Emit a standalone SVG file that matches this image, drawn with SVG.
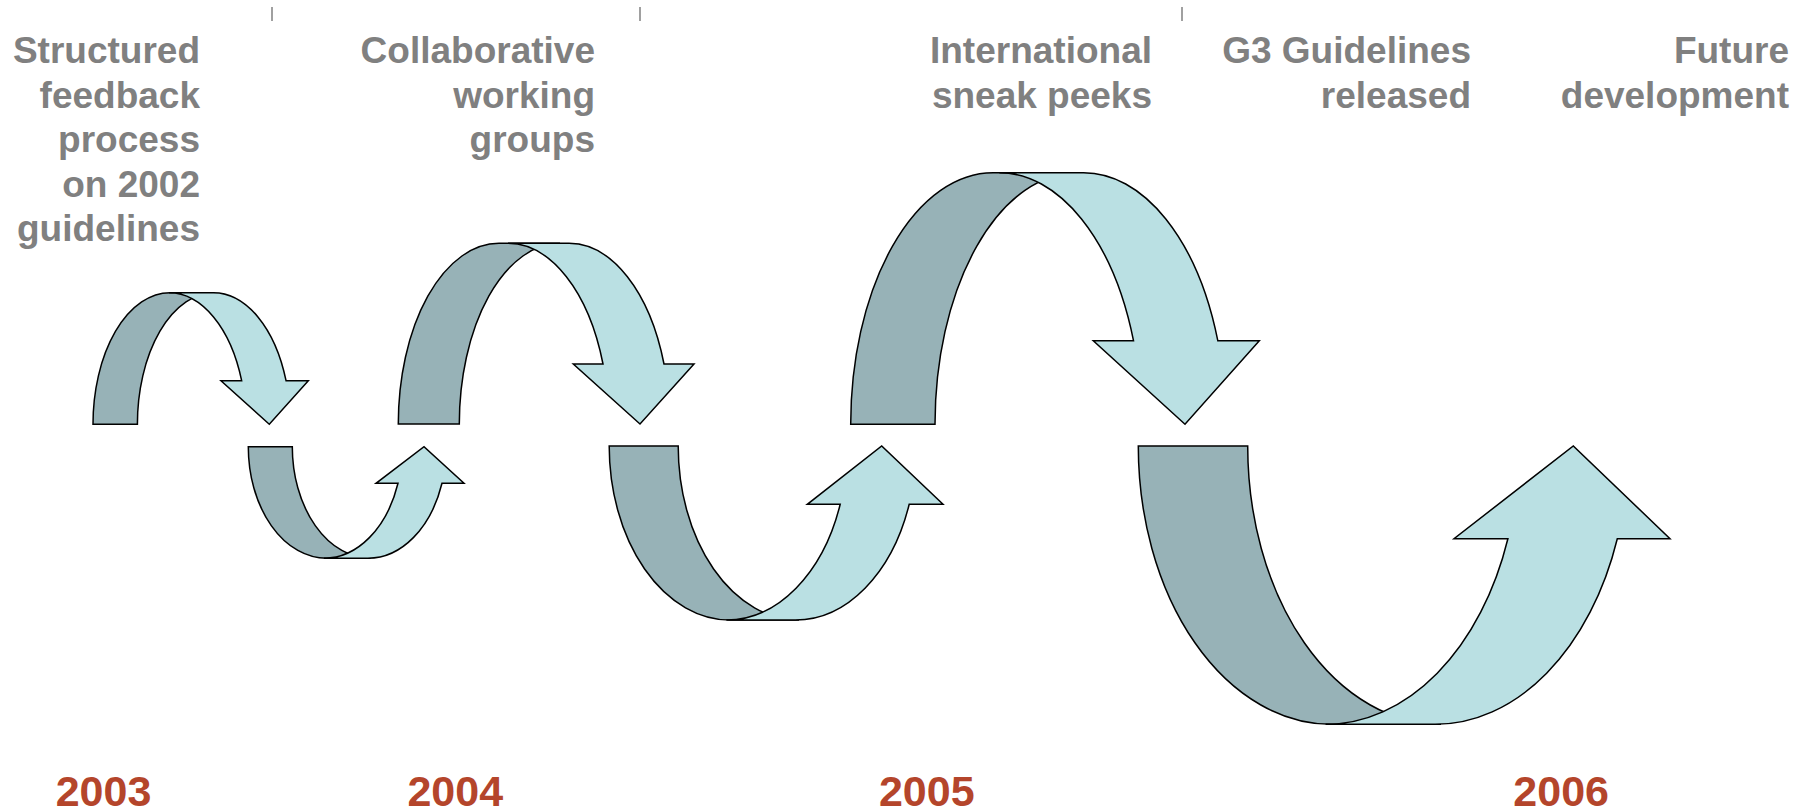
<svg xmlns="http://www.w3.org/2000/svg" width="1812" height="809" viewBox="0 0 1812 809">
<style>
.lbl{font-family:"Liberation Sans",Arial,sans-serif;font-weight:bold;font-size:37px;fill:#808080;text-anchor:end}
.yr{font-family:"Liberation Sans",Arial,sans-serif;font-weight:bold;font-size:43px;fill:#B4452B;text-anchor:middle}
.dk{fill:#97B2B7;stroke:#000;stroke-width:1.5;stroke-linejoin:miter}
.lt{fill:#BAE0E3;stroke:#000;stroke-width:1.5;stroke-linejoin:miter}
.tick{stroke:#808080;stroke-width:1.5}
</style>
<rect width="1812" height="809" fill="#fff"/>
<g id="ticks">
<line class="tick" x1="272" y1="7" x2="272" y2="21"/>
<line class="tick" x1="640" y1="7" x2="640" y2="21"/>
<line class="tick" x1="1182" y1="7" x2="1182" y2="21"/>
</g>
<g id="label-2003">
<text class="lbl" x="200" y="63">Structured</text>
<text class="lbl" x="200" y="107.5">feedback</text>
<text class="lbl" x="200" y="152">process</text>
<text class="lbl" x="200" y="196.5">on 2002</text>
<text class="lbl" x="200" y="241">guidelines</text>
</g>
<g id="label-collab">
<text class="lbl" x="595" y="63">Collaborative</text>
<text class="lbl" x="595" y="107.5">working</text>
<text class="lbl" x="595" y="152">groups</text>
</g>
<g id="label-intl">
<text class="lbl" x="1152" y="63">International</text>
<text class="lbl" x="1152" y="107.5">sneak peeks</text>
</g>
<g id="label-g3">
<text class="lbl" x="1471" y="63">G3 Guidelines</text>
<text class="lbl" x="1471" y="107.5">released</text>
</g>
<g id="label-future">
<text class="lbl" x="1789" y="63">Future</text>
<text class="lbl" x="1789" y="107.5">development</text>
</g>
<g id="arrow1">
<path class="dk" d="M93 424.3 A77 131.6 0 0 1 170 292.7 L214.4 292.7 A77 131.6 0 0 0 137.4 424.3 Z"/>
<path class="lt" d="M169 292.7 L213.4 292.7 A77 131.6 0 0 1 286.05 380.7 L308.3 380.7 L269.3 424.3 L221 380.7 L241.65 380.7 A77 131.6 0 0 0 169 292.7 Z"/>
</g>
<g id="arrow2">
<path class="dk" d="M248.3 446.7 A78.4 111.6 0 0 0 326.7 558.3 L370.7 558.3 A78.4 111.6 0 0 1 292.3 446.7 Z"/>
<path class="lt" d="M323.9 558.3 L367.9 558.3 A78.4 111.6 0 0 0 442 483.3 L464 483.3 L424 446.7 L376 483.3 L398 483.3 A78.4 111.6 0 0 1 323.9 558.3 Z"/>
</g>
<g id="arrow3">
<path class="dk" d="M398.3 424 A100.7 180.7 0 0 1 499 243.3 L560 243.3 A100.7 180.7 0 0 0 459.3 424 Z"/>
<path class="lt" d="M508 243.3 L569 243.3 A100.7 180.7 0 0 1 664 364 L694 364 L640 424 L573.3 364 L603 364 A100.7 180.7 0 0 0 508 243.3 Z"/>
</g>
<g id="arrow4">
<path class="dk" d="M609.2 446 A120.8 174 0 0 0 730 620 L799 620 A120.8 174 0 0 1 678.2 446 Z"/>
<path class="lt" d="M726.4 620 L795.4 620 A120.8 174 0 0 0 909.2 504.3 L943 504.3 L881.7 446 L807.3 504.3 L840.2 504.3 A120.8 174 0 0 1 726.4 620 Z"/>
</g>
<g id="arrow5">
<path class="dk" d="M850.7 424.3 A142.3 251.6 0 0 1 993 172.7 L1077.3 172.7 A142.3 251.6 0 0 0 935 424.3 Z"/>
<path class="lt" d="M999.3 172.7 L1083.6 172.7 A142.3 251.6 0 0 1 1217.8 340.7 L1259.3 340.7 L1185 424.3 L1093.3 340.7 L1133.5 340.7 A142.3 251.6 0 0 0 999.3 172.7 Z"/>
</g>
<g id="arrow6">
<path class="dk" d="M1138.3 446 A193.3 278.3 0 0 0 1331.6 724.3 L1441 724.3 A193.3 278.3 0 0 1 1247.7 446 Z"/>
<path class="lt" d="M1325.6 724.3 L1435 724.3 A193.3 278.3 0 0 0 1617.3 538.7 L1670 538.7 L1573.3 446 L1454 538.7 L1507.9 538.7 A193.3 278.3 0 0 1 1325.6 724.3 Z"/>
</g>
<g id="years">
<text class="yr" x="103.5" y="806">2003</text>
<text class="yr" x="455.3" y="806">2004</text>
<text class="yr" x="926.8" y="806">2005</text>
<text class="yr" x="1561.2" y="806">2006</text>
</g>
</svg>
